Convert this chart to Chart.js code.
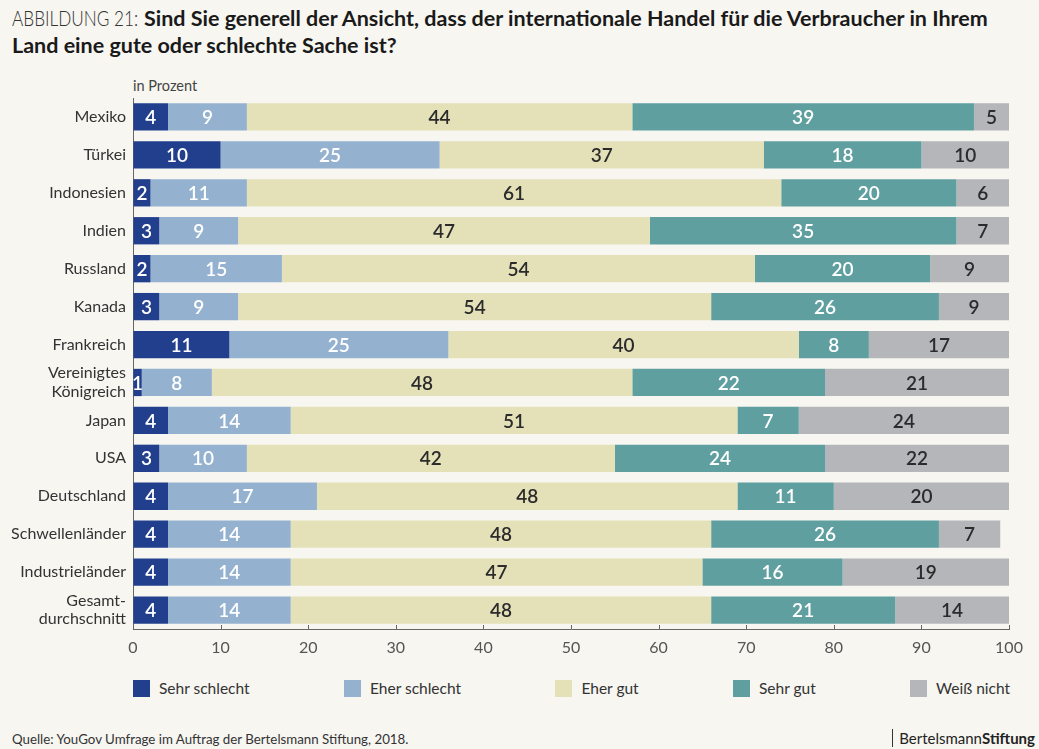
<!DOCTYPE html>
<html lang="de">
<head>
<meta charset="utf-8">
<script src="https://cdn.jsdelivr.net/npm/chart.js@4/dist/chart.umd.min.js"></script>
<style>
  html, body { margin: 0; padding: 0; }
  body { width: 1039px; height: 749px; background: #f7f6f1; font-family: Lato, "Open Sans", sans-serif; color: #222; position: relative; overflow: hidden; }
  #title { position: absolute; left: 12px; top: 5px; width: 1020px; font-size: 21.5px; line-height: 27px; }
  #title .lead { display: inline-block; width: 132px; white-space: nowrap; vertical-align: top; }
  #title .lead span { display: inline-block; font-weight: 300; color: #333; transform: scaleX(0.8); transform-origin: left center; }
  #title b { font-weight: 700; color: #1a1a1a; }
  #unit { position: absolute; left: 133px; top: 77px; font-size: 14.5px; color: #444; }
  #chartBox { position: absolute; left: 0; top: 90px; width: 1039px; height: 579px; }
  #legend { position: absolute; left: 133px; top: 679px; width: 877px; display: flex; justify-content: space-between; font-size: 15.5px; color: #333; }
  #legend .item { display: flex; align-items: center; }
  #legend .box { width: 17px; height: 17px; margin-right: 9px; }
  #source { position: absolute; left: 12px; top: 731px; font-size: 13.3px; color: #333; }
  #brand { position: absolute; right: 4px; top: 729px; font-size: 15px; color: #222; border-left: 1px solid #333; padding-left: 6px; line-height: 18px; }
  #brand b { font-weight: 700; }
</style>
</head>
<body>
<div id="title"><span class="lead"><span>ABBILDUNG 21:</span></span><b>Sind Sie generell der Ansicht, dass der internationale Handel für die Verbraucher in Ihrem Land eine gute oder schlechte Sache ist?</b></div>
<div id="unit">in Prozent</div>
<div id="chartBox"><canvas id="handel"></canvas></div>
<div id="legend"></div>
<div id="source">Quelle: YouGov Umfrage im Auftrag der Bertelsmann Stiftung, 2018.</div>
<div id="brand">Bertelsmann<b>Stiftung</b></div>

<script>
// Länder / Gruppen (von oben nach unten)
const laender = [
  'Mexiko', 'Türkei', 'Indonesien', 'Indien', 'Russland', 'Kanada', 'Frankreich',
  ['Vereinigtes', 'Königreich'], 'Japan', 'USA', 'Deutschland', 'Schwellenländer',
  'Industrieländer', ['Gesamt-', 'durchschnitt']
];

// Antworten in Prozent
const sehrSchlecht = [4, 10, 2, 3, 2, 3, 11, 1, 4, 3, 4, 4, 4, 4];
const eherSchlecht = [9, 25, 11, 9, 15, 9, 25, 8, 14, 10, 17, 14, 14, 14];
const eherGut      = [44, 37, 61, 47, 54, 54, 40, 48, 51, 42, 48, 48, 47, 48];
const sehrGut      = [39, 18, 20, 35, 20, 26, 8, 22, 7, 24, 11, 26, 16, 21];
const weissNicht   = [5, 10, 6, 7, 9, 9, 17, 21, 24, 22, 20, 7, 19, 14];

const achsenTicks = [0, 10, 20, 30, 40, 50, 60, 70, 80, 90, 100];

const reihen = [
  { label: 'Sehr schlecht', data: sehrSchlecht, color: '#213f8d', text: '#ffffff' },
  { label: 'Eher schlecht', data: eherSchlecht, color: '#94b2cf', text: '#ffffff' },
  { label: 'Eher gut',      data: eherGut,      color: '#e4e1b9', text: '#2b2b2b' },
  { label: 'Sehr gut',      data: sehrGut,      color: '#5f9fa0', text: '#ffffff' },
  { label: 'Weiß nicht',    data: weissNicht,   color: '#b4b6ba', text: '#2b2b2b' }
];

// Zahlen mittig in die Balkensegmente schreiben
const segmentLabels = {
  id: 'segmentLabels',
  afterDatasetsDraw(chart) {
    const { ctx, chartArea } = chart;
    ctx.save();
    ctx.font = '600 19px Lato';
    ctx.textAlign = 'center';
    ctx.textBaseline = 'middle';
    chart.data.datasets.forEach((ds, i) => {
      chart.getDatasetMeta(i).data.forEach((bar, j) => {
        const { x, y, base } = bar.getProps(['x', 'y', 'base'], true);
        const right = Math.min(x, chartArea.right);
        ctx.fillStyle = ds.textColor;
        ctx.fillText(ds.data[j], (base + right) / 2, y + 1);
      });
    });
    ctx.restore();
  }
};

// kleine Teilstriche nach innen an der x-Achse
const innerTicks = {
  id: 'innerTicks',
  afterDraw(chart) {
    const { ctx, chartArea } = chart;
    const xs = chart.scales.x;
    ctx.save();
    ctx.strokeStyle = '#666';
    ctx.lineWidth = 1;
    achsenTicks.forEach(v => {
      const px = Math.round(xs.getPixelForValue(v)) + 0.5;
      ctx.beginPath();
      ctx.moveTo(px, chartArea.bottom);
      ctx.lineTo(px, chartArea.bottom - 4);
      ctx.stroke();
    });
    ctx.restore();
  }
};

const legend = document.getElementById('legend');
reihen.forEach(r => {
  const item = document.createElement('div');
  item.className = 'item';
  item.innerHTML = `<span class="box" style="background:${r.color}"></span><span>${r.label}</span>`;
  legend.appendChild(item);
});

const zeichnen = () => {
  new Chart(document.getElementById('handel'), {
    type: 'bar',
    data: {
      labels: laender,
      datasets: reihen.map(r => ({
        label: r.label,
        data: r.data,
        backgroundColor: r.color,
        textColor: r.text,
        borderWidth: 0,
        barPercentage: 0.72,
        categoryPercentage: 1
      }))
    },
    options: {
      indexAxis: 'y',
      responsive: true,
      maintainAspectRatio: false,
      animation: false,
      layout: { padding: { left: 0, right: 30, top: 8, bottom: 0 } },
      plugins: { legend: { display: false }, tooltip: { enabled: false } },
      scales: {
        x: {
          stacked: true,
          min: 0,
          max: 100,
          afterBuildTicks: s => { s.ticks = achsenTicks.map(v => ({ value: v })); },
          afterFit: s => { s.height = 40; },
          grid: { drawOnChartArea: false, drawTicks: false },
          border: { display: true, color: '#666', width: 1 },
          ticks: { padding: 9, color: '#555', font: { family: 'Lato', size: 16 } }
        },
        y: {
          stacked: true,
          afterFit: s => { s.width = 133; s.paddingTop = 0; s.paddingBottom = 0; },
          grid: { drawOnChartArea: false, drawTicks: false },
          border: { display: true, color: '#666', width: 1 },
          ticks: { autoSkip: false, padding: 7, color: '#333', font: { family: 'Lato', size: 16, lineHeight: 1.15 } }
        }
      }
    },
    plugins: [segmentLabels, innerTicks]
  });
};

Promise.all([document.fonts.load('600 19px Lato'), document.fonts.load('16px Lato')])
  .then(zeichnen, zeichnen);
</script>
</body>
</html>
